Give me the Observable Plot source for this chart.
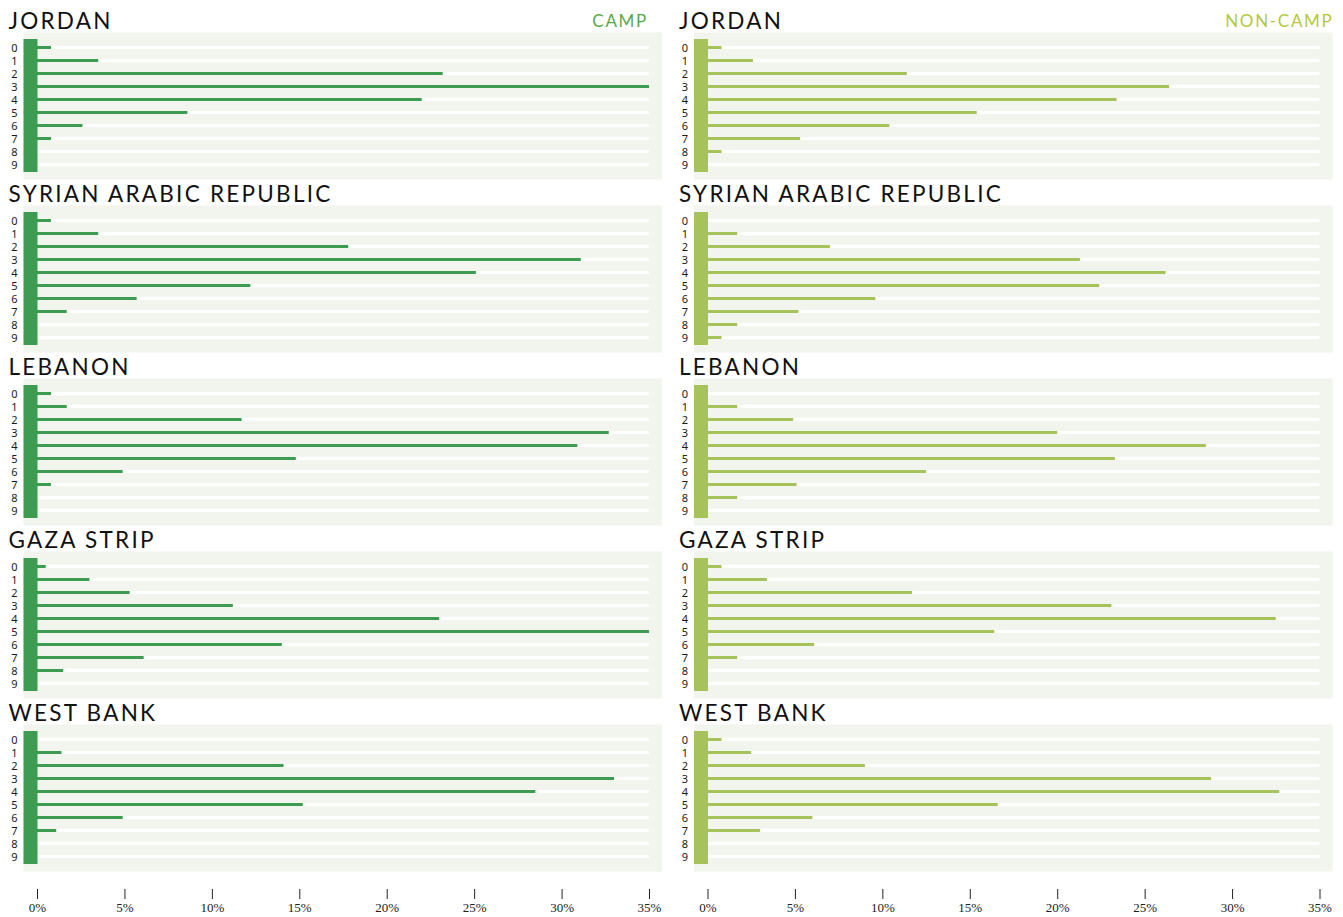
<!DOCTYPE html>
<html><head><meta charset="utf-8">
<script src="https://cdn.jsdelivr.net/npm/d3@7"></script>
<script src="https://cdn.jsdelivr.net/npm/@observablehq/plot@0.6"></script>
<style>
html,body{margin:0;padding:0;background:#fff;}
#chart svg{display:block;}
g[font-family="Lato"]{letter-spacing:0.1em;}
</style></head><body><div id="chart"></div>
<script>
const countries = ["JORDAN", "SYRIAN ARABIC REPUBLIC", "LEBANON", "GAZA STRIP", "WEST BANK"];
const types = ["CAMP", "NON-CAMP"];
const rows = [0, 1, 2, 3, 4, 5, 6, 7, 8, 9];
const xTicks = [0, 5, 10, 15, 20, 25, 30, 35];

const jordanCamp       = [0.8, 3.5, 23.2, 35.0, 22.0, 8.6, 2.6, 0.8, 0, 0];
const jordanNonCamp    = [0.8, 2.6, 11.4, 26.4, 23.4, 15.4, 10.4, 5.3, 0.8, 0];
const syriaCamp        = [0.8, 3.5, 17.8, 31.1, 25.1, 12.2, 5.7, 1.7, 0, 0];
const syriaNonCamp     = [0, 1.7, 7.0, 21.3, 26.2, 22.4, 9.6, 5.2, 1.7, 0.8];
const lebanonCamp      = [0.8, 1.7, 11.7, 32.7, 30.9, 14.8, 4.9, 0.8, 0, 0];
const lebanonNonCamp   = [0, 1.7, 4.9, 20.0, 28.5, 23.3, 12.5, 5.1, 1.7, 0];
const gazaCamp         = [0.5, 3.0, 5.3, 11.2, 23.0, 35.0, 14.0, 6.1, 1.5, 0];
const gazaNonCamp      = [0.8, 3.4, 11.7, 23.1, 32.5, 16.4, 6.1, 1.7, 0, 0];
const westBankCamp     = [0, 1.4, 14.1, 33.0, 28.5, 15.2, 4.9, 1.1, 0, 0];
const westBankNonCamp  = [0.8, 2.5, 9.0, 28.8, 32.7, 16.6, 6.0, 3.0, 0, 0];

const series = [
  [jordanCamp, jordanNonCamp],
  [syriaCamp, syriaNonCamp],
  [lebanonCamp, lebanonNonCamp],
  [gazaCamp, gazaNonCamp],
  [westBankCamp, westBankNonCamp]
];

const panels = [];
const stripes = [];
const bars = [];
countries.forEach((country, ci) => {
  types.forEach((type, ti) => {
    panels.push({country, type});
    rows.forEach((row, ri) => {
      stripes.push({country, type, row});
      const value = series[ci][ti][ri];
      if (value > 0) bars.push({country, type, row, value});
    });
  });
});
const xMax = xTicks[xTicks.length - 1];

const chart = Plot.plot({
  width: 1343,
  height: 917,
  marginTop: 32,
  marginBottom: 46,
  marginLeft: 23,
  marginRight: 11,
  style: {background: "#fff", overflow: "visible"},
  fx: {domain: types, axis: null, paddingInner: 0.0477, paddingOuter: 0, round: false},
  fy: {domain: countries, axis: null, paddingInner: 0.1503, paddingOuter: 0, round: false},
  x: {domain: [0, xMax], insetLeft: 14, insetRight: 12.5, axis: null},
  y: {type: "point", domain: rows, padding: 0, insetTop: 13.3, insetBottom: 13.8, axis: null},
  color: {domain: types, range: ["#3d9b52", "#a6c35b"]},
  marks: [
    Plot.frame({fill: "#f2f4ee"}),
    Plot.ruleY(stripes, {y: "row", x1: () => 0, x2: () => xMax, fx: "type", fy: "country", stroke: "#ffffff", strokeWidth: 3}),
    Plot.ruleY(bars, {y: "row", x1: () => 0, x2: "value", fx: "type", fy: "country", stroke: "type", strokeWidth: 3}),
    Plot.ruleX(panels, {x: () => 0, fx: "type", fy: "country", stroke: "type", strokeWidth: 14, dx: -7, insetTop: 7, insetBottom: 7}),
    Plot.text(stripes, {y: "row", text: d => String(d.row), fx: "type", fy: "country", frameAnchor: "left", textAnchor: "end", dx: -6, dy: 0.5, fontSize: 11, fontFamily: "Noto Sans", fill: "#1a1a1a"}),
    Plot.text(panels, {text: "country", fx: "type", fy: "country", frameAnchor: "top-left", textAnchor: "start", lineAnchor: "bottom", dx: -15, dy: -4, fontSize: 22.5, fontFamily: "Lato", fill: "#111"}),
    Plot.text(panels.filter(d => d.country === countries[0] && d.type === types[0]), {text: "type", fx: "type", fy: "country", frameAnchor: "top-right", textAnchor: "end", lineAnchor: "bottom", dx: -14, dy: -6, fontSize: 17, fontFamily: "Lato", fill: "#5ba84c"}),
    Plot.text(panels.filter(d => d.country === countries[0] && d.type === types[1]), {text: "type", fx: "type", fy: "country", frameAnchor: "top-right", textAnchor: "end", lineAnchor: "bottom", dx: 1, dy: -6, fontSize: 17, fontFamily: "Lato", fill: "#b3c93b"}),
    Plot.axisX({ticks: xTicks, tickFormat: d => d + "%", label: null, tickSize: 10, tickPadding: 3, dy: 18, fontSize: 13, fontFamily: "Liberation Serif", color: "#222"})
  ]
});
document.getElementById("chart").appendChild(chart);
</script>
</body></html>
